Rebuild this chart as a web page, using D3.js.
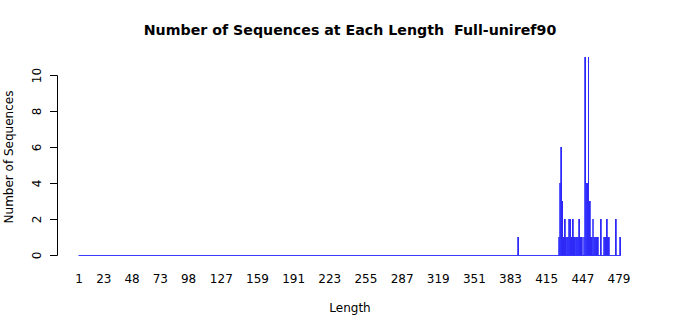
<!DOCTYPE html>
<html>
<head>
<meta charset="utf-8">
<script src="https://cdn.jsdelivr.net/npm/d3@7"></script>
<style>
  body { margin: 0; background: #fff; }
  text { font-family: "DejaVu Sans", sans-serif; fill: #000; white-space: pre; }
</style>
</head>
<body>
<div id="chart"></div>
<script>
// sequence lengths shown on the axis (1 .. 480)
const firstLength = 1
const lastLength = 480
// lengths that have at least one sequence, with their counts
const lengths = [390, 426, 427, 428, 429, 430, 431, 432, 433, 434, 435, 436, 437, 438, 439, 440,
                 441, 442, 443, 444, 445, 446, 448, 449, 450, 451, 452, 453, 454, 455, 456, 457,
                 458, 459, 460, 463, 466, 467, 468, 469, 470, 476, 480]
const counts  = [1, 1, 4, 6, 3, 1, 2, 1, 1, 1, 2, 2, 1, 2, 1, 1,
                 1, 1, 1, 2, 1, 1, 1, 11, 4, 4, 11, 3, 1, 1, 2, 1,
                 1, 1, 1, 2, 1, 1, 2, 1, 1, 2, 1]
const xTickLabels = [1, 23, 48, 73, 98, 127, 159, 191, 223, 255, 287, 319, 351, 383, 415, 447, 479]
const yTicks = [0, 2, 4, 6, 8, 10]

const w = 700, h = 315

let svg = d3.select('#chart')
    .append('svg')
    .attr('width', w)
    .attr('height', h)

let categories = d3.range(firstLength, lastLength + 1)
let countByLength = new Map(lengths.map((l, i) => [l, counts[i]]))
let data = categories.map(l => ({length: l, count: countByLength.get(l) || 0}))

let x = d3.scaleBand()
    .domain(categories)
    .range([78.4, 620.7])
    .paddingInner(0.17)
    .paddingOuter(0.08)

let y = d3.scaleLinear()
    .domain([0, 10])
    .range([255, 75])

// zero-height bars still show their border in R, giving a baseline
svg.append('line')
    .attr('x1', x(firstLength))
    .attr('x2', x(lastLength) + x.bandwidth())
    .attr('y1', y(0) + 0.5)
    .attr('y2', y(0) + 0.5)
    .attr('stroke', '#3c3cff')
    .attr('stroke-width', 1)

svg.append('g')
    .selectAll('rect')
    .data(data.filter(d => d.count > 0))
    .enter()
    .append('rect')
    .attr('x', d => x(d.length))
    .attr('width', x.bandwidth())
    .attr('y', d => y(d.count))
    .attr('height', d => y(0) - y(d.count))
    .attr('fill', '#2200d8')
    .attr('stroke', '#3333ff')
    .attr('stroke-width', 0.8)
    .attr('shape-rendering', 'crispEdges')

// y axis, R style with rotated labels
let yAxis = svg.append('g')
    .attr('transform', 'translate(57,0)')
    .call(d3.axisLeft(y).tickValues(yTicks).tickSize(7).tickPadding(0).tickFormat(d3.format('d')))
yAxis.select('.domain').attr('stroke', '#000')
yAxis.selectAll('.tick line').attr('stroke', '#000')
yAxis.selectAll('.tick text')
    .attr('x', 0)
    .attr('dy', 0)
    .attr('transform', 'translate(-16,0) rotate(-90)')
    .attr('text-anchor', 'middle')
    .style('font-size', '12px')
    .style('font-family', '"DejaVu Sans", sans-serif')

// x labels only (no axis line)
svg.append('g')
    .selectAll('text')
    .data(xTickLabels)
    .enter()
    .append('text')
    .attr('x', d => x(d) + x.bandwidth() / 2)
    .attr('y', 283)
    .attr('text-anchor', 'middle')
    .style('font-size', '12px')
    .text(d => d)

svg.append('text')
    .attr('x', 350)
    .attr('y', 35)
    .attr('text-anchor', 'middle')
    .style('font-size', '14.2px')
    .style('font-weight', 'bold')
    .text('Number of Sequences at Each Length  Full-uniref90')

svg.append('text')
    .attr('x', 350)
    .attr('y', 312)
    .attr('text-anchor', 'middle')
    .style('font-size', '12px')
    .text('Length')

svg.append('text')
    .attr('transform', 'translate(13,157) rotate(-90)')
    .attr('text-anchor', 'middle')
    .style('font-size', '12px')
    .text('Number of Sequences')
</script>
</body>
</html>
